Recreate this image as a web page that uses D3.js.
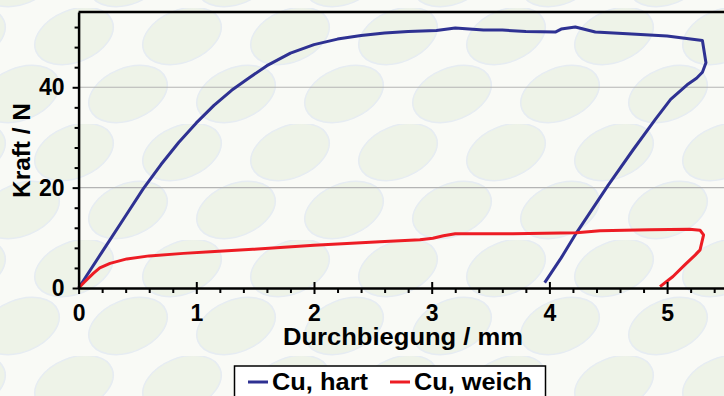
<!DOCTYPE html>
<html>
<head>
<meta charset="utf-8">
<script src="https://cdn.jsdelivr.net/npm/d3@7"></script>
<style>
  body { margin: 0; }
  svg { display: block; font-family: "Liberation Sans", Arial, sans-serif; }
</style>
</head>
<body>
<div id="chart"></div>
<script>
// Durchbiegung (mm) / Kraft (N)
const hartX = [0, 0.2, 0.4, 0.55, 0.7, 0.85, 1.0, 1.15, 1.3, 1.45, 1.6, 1.8, 2.0, 2.2, 2.4, 2.6, 2.8, 3.04, 3.2, 3.44, 3.6, 3.8, 4.05, 4.1, 4.22, 4.39, 4.7, 5.0, 5.3, 5.33, 5.3, 5.25, 5.17, 5.03, 4.9, 4.71, 4.5, 4.23, 4.1, 3.96];
const hartY = [0, 7.2, 14.4, 19.8, 24.6, 29.0, 32.9, 36.4, 39.4, 41.9, 44.3, 46.8, 48.5, 49.6, 50.3, 50.8, 51.1, 51.3, 51.8, 51.4, 51.4, 51.1, 51.0, 51.6, 52.0, 51.0, 50.6, 50.2, 49.3, 44.9, 43.0, 41.8, 40.5, 37.6, 33.6, 27.5, 20.5, 11.0, 6.0, 1.06];

const weichX = [0, 0.05, 0.125, 0.18, 0.267, 0.41, 0.6, 0.89, 1.12, 1.48, 2.0, 2.56, 2.9, 3.01, 3.1, 3.2, 3.69, 4.23, 4.43, 4.85, 5.19, 5.28, 5.31, 5.28, 5.24, 5.15, 5.05, 4.94];
const weichY = [0, 1.2, 2.9, 4.0, 4.9, 5.8, 6.4, 6.9, 7.2, 7.7, 8.5, 9.2, 9.6, 9.9, 10.4, 10.8, 10.8, 11.0, 11.4, 11.6, 11.7, 11.5, 10.6, 7.6, 6.6, 4.6, 2.3, 0.26];

const xMajor = [0, 1, 2, 3, 4, 5];
const yMajor = [0, 20, 40];
const gridY = [20, 40];
const series = [
  { name: "Cu, hart", color: "#2e3192", xs: hartX, ys: hartY, lx: 248, len: 96 },
  { name: "Cu, weich", color: "#ed1c24", xs: weichX, ys: weichY, lx: 390, len: 118 }
];

const width = 724, height = 396;
const x = d3.scaleLinear().domain([0, 5.5]).range([78.6, 78.6 + 117.7 * 5.5]);
const y = d3.scaleLinear().domain([0, 55]).range([288, 12]);

const svg = d3.select("#chart").append("svg")
  .attr("width", width)
  .attr("height", height);

// background leaf pattern
const defs = svg.append("defs");
const pat = defs.append("pattern")
  .attr("id", "leaves")
  .attr("patternUnits", "userSpaceOnUse")
  .attr("width", 216).attr("height", 116)
  .attr("patternTransform", "translate(20,8)");
[[54, 28], [162, 28], [0, 86], [108, 86], [216, 86]].forEach(([cx, cy]) => {
  pat.append("ellipse")
    .attr("cx", cx).attr("cy", cy)
    .attr("rx", 41).attr("ry", 26)
    .attr("transform", `rotate(-22,${cx},${cy})`)
    .attr("fill", "#eef3e8")
    .attr("stroke", "#e6ecf2")
    .attr("stroke-width", 1.5);
});

svg.append("rect").attr("width", width).attr("height", height).attr("fill", "#f9faf6");
svg.append("rect").attr("width", width).attr("height", height).attr("fill", "url(#leaves)");

// grid
svg.append("g").selectAll("line")
  .data(gridY)
  .join("line")
  .attr("x1", x(0)).attr("x2", width)
  .attr("y1", d => y(d)).attr("y2", d => y(d))
  .attr("stroke", "#b4b4b4")
  .attr("stroke-width", 1.2);

// top frame line
svg.append("line")
  .attr("x1", x(0)).attr("x2", width)
  .attr("y1", y(55)).attr("y2", y(55))
  .attr("stroke", "#000").attr("stroke-width", 2.5);

// curves
const line = d3.line().x(d => x(d[0])).y(d => y(d[1]));
series.forEach(s => {
  svg.append("path")
    .datum(s.xs.map((v, i) => [v, s.ys[i]]))
    .attr("fill", "none")
    .attr("stroke", s.color)
    .attr("stroke-width", 3)
    .attr("stroke-linejoin", "round")
    .attr("d", line);
});

// x axis
const xMinor = d3.range(0, 5.5, 0.2).filter(v => Math.abs(v - Math.round(v)) > 0.01);
svg.append("g")
  .attr("transform", `translate(0,${y(0)})`)
  .call(d3.axisBottom(x).tickValues(xMinor).tickSize(5).tickFormat(""))
  .call(g => g.select(".domain").remove())
  .call(g => g.selectAll("line").attr("stroke-width", 2));

const gx = svg.append("g")
  .attr("transform", `translate(0,${y(0)})`)
  .call(d3.axisBottom(x).tickValues(xMajor).tickSize(6).tickPadding(11).tickSizeOuter(0).tickFormat(d3.format("d")));
gx.select(".domain").attr("stroke-width", 2.5);
gx.selectAll(".tick line").attr("y1", -6).attr("stroke-width", 2);
gx.selectAll("text").attr("font-size", 23).attr("font-weight", "bold").attr("fill", "#000");

// y axis
const yMinor = d3.range(0, 55, 4).filter(v => v % 20 !== 0);
svg.append("g")
  .attr("transform", `translate(${x(0)},0)`)
  .call(d3.axisLeft(y).tickValues(yMinor).tickSize(4).tickFormat(""))
  .call(g => g.select(".domain").remove())
  .call(g => g.selectAll("line").attr("stroke-width", 2));

const gy = svg.append("g")
  .attr("transform", `translate(${x(0)},0)`)
  .call(d3.axisLeft(y).tickValues(yMajor).tickSize(6).tickPadding(8).tickSizeOuter(0).tickFormat(d3.format("d")));
gy.select(".domain").attr("stroke-width", 2.5);
gy.selectAll(".tick line").attr("stroke-width", 2);
gy.selectAll("text").attr("font-size", 23).attr("font-weight", "bold").attr("fill", "#000");

// axis titles
svg.append("text")
  .attr("x", 283).attr("y", 345)
  .attr("font-size", 23).attr("font-weight", "bold")
  .attr("textLength", 240).attr("lengthAdjust", "spacingAndGlyphs")
  .text("Durchbiegung / mm");

svg.append("text")
  .attr("transform", "translate(30,198) rotate(-90)")
  .attr("font-size", 23).attr("font-weight", "bold")
  .attr("textLength", 95).attr("lengthAdjust", "spacingAndGlyphs")
  .text("Kraft / N");

// legend
const lg = svg.append("g");
lg.append("rect")
  .attr("x", 234.5).attr("y", 366)
  .attr("width", 311).attr("height", 40)
  .attr("fill", "#fff")
  .attr("stroke", "#000").attr("stroke-width", 1.5);
series.forEach(s => {
  lg.append("line")
    .attr("x1", s.lx).attr("x2", s.lx + 20)
    .attr("y1", 382).attr("y2", 382)
    .attr("stroke", s.color).attr("stroke-width", 3);
  lg.append("text")
    .attr("x", s.lx + 24).attr("y", 390)
    .attr("font-size", 23).attr("font-weight", "bold")
    .attr("textLength", s.len).attr("lengthAdjust", "spacingAndGlyphs")
    .text(s.name);
});
</script>
</body>
</html>
